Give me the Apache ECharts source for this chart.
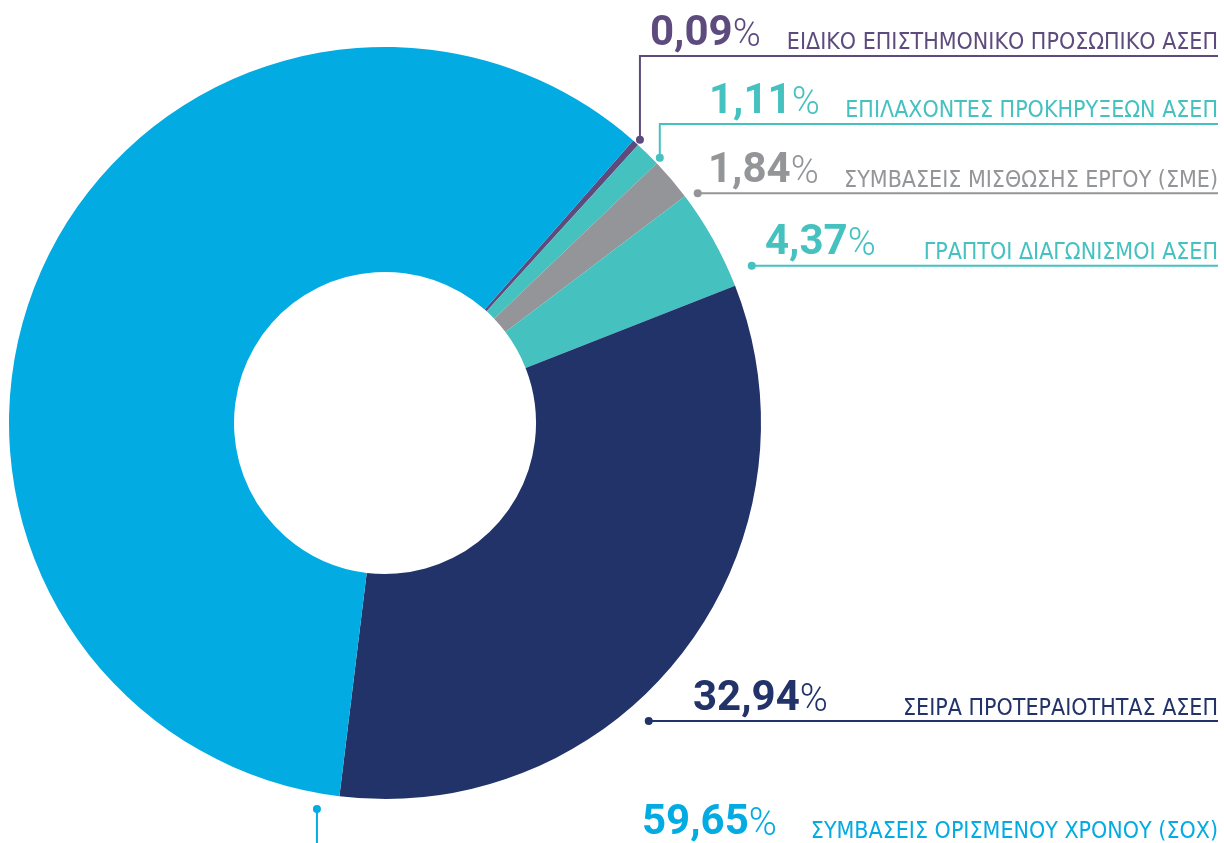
<!DOCTYPE html>
<html>
<head>
<meta charset="utf-8">
<script src="https://cdn.jsdelivr.net/npm/echarts@6/dist/echarts.min.js"></script>
<style>
html, body { margin: 0; padding: 0; background: #fff; }
#chart { width: 1224px; height: 843px; }
</style>
</head>
<body>
<div id="chart"></div>
<script>
const categories = [
    'ΕΙΔΙΚΟ ΕΠΙΣΤΗΜΟΝΙΚΟ ΠΡΟΣΩΠΙΚΟ ΑΣΕΠ',
    'ΕΠΙΛΑΧΟΝΤΕΣ ΠΡΟΚΗΡΥΞΕΩΝ ΑΣΕΠ',
    'ΣΥΜΒΑΣΕΙΣ ΜΙΣΘΩΣΗΣ ΕΡΓΟΥ (ΣΜΕ)',
    'ΓΡΑΠΤΟΙ ΔΙΑΓΩΝΙΣΜΟΙ ΑΣΕΠ',
    'ΣΕΙΡΑ ΠΡΟΤΕΡΑΙΟΤΗΤΑΣ ΑΣΕΠ',
    'ΣΥΜΒΑΣΕΙΣ ΟΡΙΣΜΕΝΟΥ ΧΡΟΝΟΥ (ΣΟΧ)'
];
const shares = [0.09, 1.11, 1.84, 4.37, 32.94, 59.65];
const colors = ['#5e4b7e', '#45c1c0', '#939598', '#45c1c0', '#22336a', '#03abe3'];

// where each label goes: left x of the percentage, y of the rule (null = level with the dot),
// and the leader dot (degrees clockwise from 12 o'clock, distance outside the ring)
const labelX = [650, 709, 708, 765, 693, 642];
const ruleY = [56, 124, null, null, null, null];
const dotAngle = [42, 46, 53.7, 66.8, 138.5, 190];
const dotGap = [5, 6, 12, 23, 22, 16];

const cx = 385, cy = 423, r0 = 151, r1 = 376, rightEdge = 1218;

function dotPos(i) {
    const a = dotAngle[i] * Math.PI / 180;
    const d = r1 + dotGap[i];
    return [cx + d * Math.sin(a), cy - d * Math.cos(a)];
}
function fmt(v) { return v.toFixed(2).replace('.', ','); }

const numFont = 'Roboto, "DejaVu Sans", sans-serif';
const nameFont = '"Liberation Sans Narrow", "DejaVu Sans Condensed", sans-serif';

const chart = echarts.init(document.getElementById('chart'));

const seriesData = shares.map((v, i) => ({
    value: v,
    name: categories[i],
    itemStyle: { color: colors[i] },
    label: { color: colors[i], width: rightEdge - labelX[i] },
    labelLine: { lineStyle: { color: colors[i] } }
}));

const dots = shares.map((v, i) => {
    const p = dotPos(i);
    return { type: 'circle', shape: { cx: p[0], cy: p[1], r: 4 }, style: { fill: colors[i] }, z: 10 };
});

chart.setOption({
    animation: false,
    graphic: dots,
    series: [{
        type: 'pie',
        center: [cx, cy],
        radius: [r0, r1],
        startAngle: 48.7,
        clockwise: true,
        minAngle: 1,
        avoidLabelOverlap: false,
        data: seriesData,
        label: {
            show: true,
            position: 'outside',
            overflow: 'none',
            formatter: p => '{num|' + fmt(p.value) + '}{pct|%}{name|' + p.name + '}',
            rich: {
                num: { fontFamily: numFont, fontWeight: 'bold', fontSize: 42, verticalAlign: 'bottom' },
                pct: { fontFamily: numFont, fontWeight: 300, fontSize: 38, verticalAlign: 'bottom' },
                name: { fontFamily: nameFont, fontSize: 23, align: 'right', verticalAlign: 'bottom' }
            }
        },
        labelLine: { show: true, lineStyle: { width: 2 } },
        labelLayout: function (p) {
            const i = p.dataIndex;
            const d = dotPos(i);
            const last = i === shares.length - 1;
            if (last) {
                return {
                    x: labelX[i], y: 844, align: 'left', verticalAlign: 'bottom',
                    labelLinePoints: [d, [d[0], 900], [d[0], 900]]
                };
            }
            const y = ruleY[i] != null ? ruleY[i] : d[1];
            return {
                x: labelX[i], y: y - 1, align: 'left', verticalAlign: 'bottom',
                labelLinePoints: [d, [d[0], y], [rightEdge, y]]
            };
        }
    }]
});
</script>
</body>
</html>
